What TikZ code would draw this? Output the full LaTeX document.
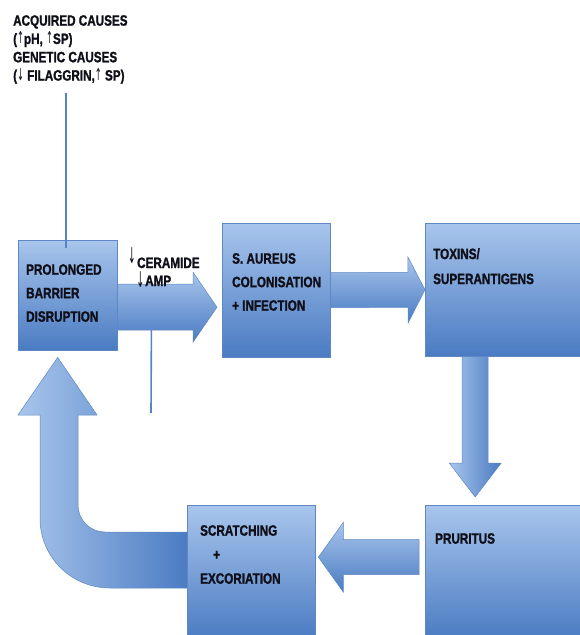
\documentclass[tikz,border=0pt]{standalone}
\usepackage{fontspec}
\setmainfont{Liberation Sans}
\newfontfamily\cond[FakeStretch=0.78, FakeBold=1.2]{Liberation Sans Bold}
\newfontfamily\sym{DejaVu Sans}
\usetikzlibrary{calc}
\definecolor{boxtop}{RGB}{168,197,236}
\definecolor{boxbot}{RGB}{74,123,194}
\definecolor{edge}{RGB}{95,135,195}
\definecolor{ink}{RGB}{15,15,25}
\definecolor{linecol}{RGB}{86,132,198}
\newcommand\ua{\scalebox{0.55}[1.1]{\sym ↑}}
\newcommand\da{\scalebox{0.55}[1.1]{\sym ↓}}
\newcommand\bigda{\scalebox{0.6}[1.45]{\sym ↓}}
\newcommand\blockarrow[6]{%
  \coordinate (hb) at ($(#3)!#6!(#2)$);
  \path[#1] ($(#2)!#4!90:(#3)$) -- ($(hb)!#4!90:(#3)$) -- ($(hb)!#5!90:(#3)$) -- (#3)
    -- ($(hb)!#5!-90:(#3)$) -- ($(hb)!#4!-90:(#3)$) -- ($(#2)!#4!-90:(#3)$) -- cycle;}
\begin{document}
\begin{tikzpicture}[x=1pt,y=-1pt,
  box/.style={draw=edge, line width=0.6pt, top color=boxtop, bottom color=boxbot, inner sep=0pt, anchor=north west},
  lbl/.style={font=\cond\fontsize{15}{23.5}\selectfont, text=ink, align=left, inner sep=0pt, anchor=north west},
  harr/.style={draw=edge, line width=0.5pt, top color=boxtop, bottom color=boxbot},
  varr/.style={draw=edge, line width=0.5pt, left color=boxtop, right color=boxbot},
  uarr/.style={draw=edge, line width=0.5pt, left color=boxtop, right color=boxbot},
  feed/.style={draw=linecol, line width=1.6pt}]
\useasboundingbox (0,0) rectangle (579,635);
% box positions
\path (18,240) coordinate (pbarrier) (222,223) coordinate (paureus) (425,223) coordinate (ptoxins)
      (425,505) coordinate (ppruritus) (187,505) coordinate (pscratch);
\path[every node/.style={inner sep=0pt, anchor=north west}]
  node[minimum width=99pt, minimum height=110pt] (barrier) at (pbarrier) {}
  node[minimum width=108pt, minimum height=134pt] (aureus) at (paureus) {}
  node[minimum width=160pt, minimum height=133pt] (toxins) at (ptoxins) {}
  node[minimum width=160pt, minimum height=135pt] (pruritus) at (ppruritus) {}
  node[minimum width=128pt, minimum height=135pt] (scratch) at (pscratch) {};
% arrows
\coordinate (a1s) at ($(barrier.east)+(0,12)$);
\coordinate (a1e) at ($(aureus.west |- a1s)+(-5,0)$);
\blockarrow{harr}{a1s}{a1e}{23pt}{35pt}{24pt}
\blockarrow{harr}{aureus.east}{toxins.west}{17.5pt}{33pt}{17pt}
\coordinate (a3s) at ($(toxins.south)+(-30,0)$);
\coordinate (a3e) at ($(a3s |- pruritus.north)+(0,-8)$);
\blockarrow{varr}{a3s}{a3e}{13pt}{26pt}{34pt}
\coordinate (a4s) at ($(pruritus.west)+(-6,-15.5)$);
\coordinate (a4e) at ($(scratch.east |- a4s)+(3,0)$);
\blockarrow{harr}{a4s}{a4e}{17.5pt}{35pt}{25pt}
\coordinate (utip) at ($(barrier.south)+(-10,7)$);
\path[uarr] ($(scratch.west)+(2,-40.5)$) -- (105,532) .. controls (90,532) and (78,520) .. (78,505)
  -- (78,415) -- (97,415) -- (utip) -- (18,415) -- (40,415) -- (40,518)
  .. controls (40,557) and (71,588) .. (110,588) -- ($(scratch.west)+(2,15.5)$) -- cycle;
% visible boxes
\node[box, minimum width=99pt, minimum height=110pt] at (pbarrier) {};
\node[box, minimum width=108pt, minimum height=134pt] at (paureus) {};
\node[box, minimum width=160pt, minimum height=133pt] at (ptoxins) {};
\node[box, minimum width=160pt, minimum height=135pt] at (ppruritus) {};
\node[box, minimum width=128pt, minimum height=135pt] at (pscratch) {};
% texts
\node[lbl, font=\cond\fontsize{15}{18.3}\selectfont] (causes) at (13,15)
  {ACQUIRED CAUSES\\(\ua pH, \ua SP)\\GENETIC CAUSES\\(\da\ FILAGGRIN,\ua\ SP)};
\node[lbl] (tbarrier) at (26,264) {PROLONGED\\BARRIER\\DISRUPTION};
\node[lbl] (taureus) at (232,253) {S. AUREUS\\COLONISATION\\+ INFECTION};
\node[lbl, font=\cond\fontsize{15}{25}\selectfont] (ttoxins) at (433,248) {TOXINS/\\SUPERANTIGENS};
\node[lbl] (tpruritus) at (435,533) {PRURITUS};
\node[lbl, font=\cond\fontsize{15}{24}\selectfont] (tscratch) at (200,525) {SCRATCHING\\\hspace*{13pt}+\\EXCORIATION};
\node[lbl, anchor=base west] (tcer) at (137,268) {\llap{\raisebox{5pt}{\bigda}\kern1.5pt}CERAMIDE};
\node[lbl, anchor=base west] (tamp) at (145,286) {\llap{\raisebox{-1pt}{\bigda}\kern1pt}AMP};
% feed lines
\draw[feed] ($(barrier.north |- causes.south)+(-1.5,9)$) -- ($(barrier.north)+(-1.5,8)$);
\coordinate (free) at (151,413);
\draw[feed] ($(a1s)+(34,23)$) -- (free);
\end{tikzpicture}
\end{document}
